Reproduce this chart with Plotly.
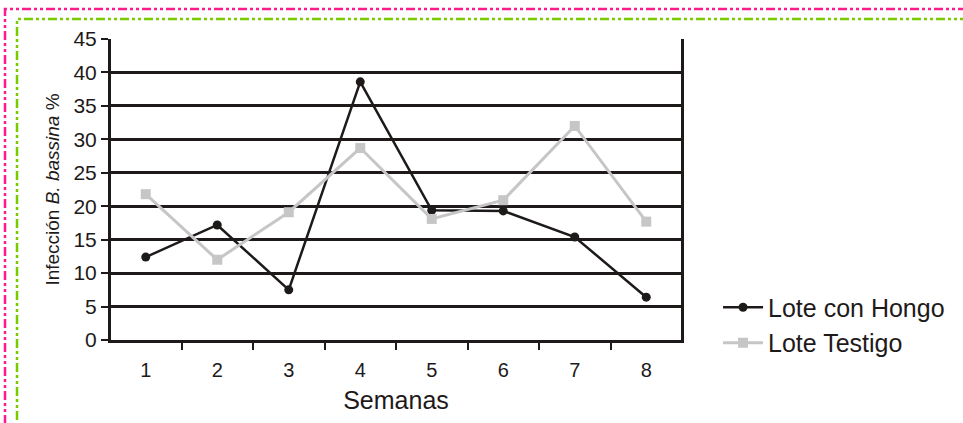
import plotly.graph_objects as go

semanas = ["1", "2", "3", "4", "5", "6", "7", "8"]
lote_hongo = [12.4, 17.2, 7.5, 38.6, 19.4, 19.3, 15.4, 6.4]
lote_testigo = [21.8, 12.0, 19.1, 28.7, 18.1, 20.9, 32.0, 17.7]
y_ticks = [0, 5, 10, 15, 20, 25, 30, 35, 40, 45]

W, H = 963, 423
L, R, T, B = 111, 282, 39, 83
INK = "#1e1a1a"
FONT = "Liberation Sans, Arial, sans-serif"


def px_x(px):
    return (px - L) / (W - L - R)


def px_y(py):
    return (H - B - py) / (H - T - B)


fig = go.Figure()
fig.add_trace(go.Scatter(
    x=semanas, y=lote_hongo, name="Lote con Hongo", mode="lines+markers",
    line=dict(color=INK, width=2.5),
    marker=dict(symbol="circle", size=9, color=INK),
))
fig.add_trace(go.Scatter(
    x=semanas, y=lote_testigo, name="Lote Testigo", mode="lines+markers",
    line=dict(color="#c6c6c6", width=3),
    marker=dict(symbol="square", size=10, color="#c6c6c6"),
))

# decorative dash-dot frames around the figure
frames = [("#ff1a8c", 5, 9), ("#77cc00", 17, 19)]
for color, left_px, top_px in frames:
    fig.add_shape(
        type="rect", xref="paper", yref="paper",
        x0=px_x(left_px), x1=px_x(W + 40), y0=px_y(H + 40), y1=px_y(top_px),
        line=dict(color=color, width=2.5, dash="9px,3px,3px,3px,3px,3px"),
        fillcolor="rgba(0,0,0,0)", layer="below",
    )

fig.update_layout(
    width=W, height=H,
    margin=dict(l=L, r=R, t=T, b=B),
    paper_bgcolor="white", plot_bgcolor="white",
    font=dict(family=FONT, color=INK),
    showlegend=True,
    legend=dict(
        x=1.065, y=0.05, xanchor="left", yanchor="middle",
        font=dict(size=25, color=INK), bgcolor="rgba(0,0,0,0)",
        tracegroupgap=0, itemwidth=40,
    ),
    xaxis=dict(
        type="category", tickson="boundaries", ticks="outside",
        ticklen=7, tickwidth=2, tickcolor=INK,
        showline=True, linecolor=INK, linewidth=3,
        showgrid=False, tickfont=dict(size=20, color=INK),
        ticklabelstandoff=10,
        title=dict(text="Semanas", font=dict(size=25, color=INK), standoff=12),
    ),
    yaxis=dict(
        range=[0, 45], tickvals=y_ticks, ticks="outside",
        ticklen=7, tickwidth=2, tickcolor=INK,
        showline=True, mirror=True, linecolor=INK, linewidth=3,
        showgrid=True, gridcolor=INK, gridwidth=3, zeroline=False,
        tickfont=dict(size=21, color=INK),
        title=dict(text="Infección <i>B. bassina</i> %",
                   font=dict(size=19, color=INK), standoff=9),
    ),
)

fig.write_html("out.html")
